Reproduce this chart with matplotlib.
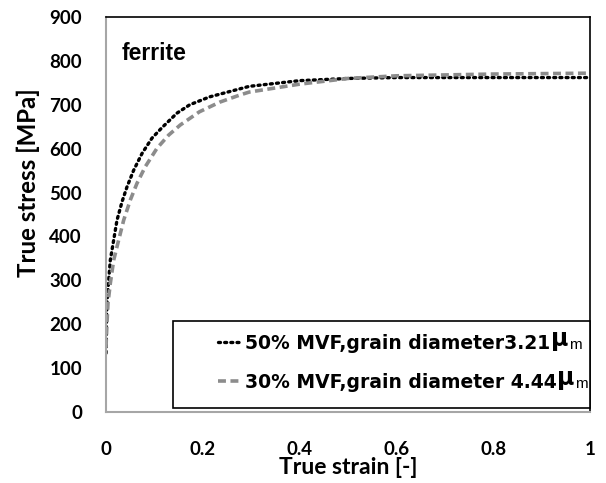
import matplotlib
matplotlib.use("Agg")
import matplotlib.pyplot as plt
from matplotlib.ticker import FuncFormatter
from matplotlib.patches import Rectangle

# Data
strain_50 = [0, 0.0006, 0.002, 0.0056, 0.0089, 0.0159, 0.0227, 0.0331, 0.0434, 0.0572,
             0.0744, 0.095, 0.1157, 0.1467, 0.173, 0.214, 0.255, 0.296, 0.40, 0.50,
             0.60, 0.70, 0.80, 0.90, 1.00]
stress_50 = [134, 194, 248, 301, 346, 392, 437, 479, 513, 551,
             589, 624, 648, 681, 700, 718, 730, 742, 755, 760,
             762, 762, 762, 762, 762]

strain_30 = [0, 0.002, 0.0041, 0.0089, 0.0159, 0.0262, 0.0365, 0.0502, 0.064, 0.0812,
             0.1054, 0.1295, 0.1535, 0.193, 0.235, 0.276, 0.296, 0.40, 0.50, 0.60,
             0.70, 0.80, 0.90, 1.00]
stress_30 = [148, 202, 248, 293, 346, 392, 437, 483, 521, 559,
             601, 631, 654, 684, 706, 722, 729, 747, 760, 766,
             768, 770, 771, 772]

label_50 = "50% MVF,grain diameter3.21"
label_30 = "30% MVF,grain diameter 4.44"
unit_mu = "μ"
unit_m = "m"
panel_label = "ferrite"
x_ticks = [0, 0.2, 0.4, 0.6, 0.8, 1.0]
y_ticks = [0, 100, 200, 300, 400, 500, 600, 700, 800, 900]

fig = plt.figure(figsize=(6.06, 4.83), dpi=100)
ax = fig.add_axes([106/606, 1-412/483, 484/606, 395/483])

ax.plot(strain_50, stress_50, color="black", lw=2.4, linestyle=(0, (0.6, 1.25)),
        dash_capstyle="round", label=label_50)
ax.plot(strain_30, stress_30, color="#8c8c8c", lw=2.6, linestyle=(0, (2.2, 1.25)),
        label=label_30)

ax.set_xlim(0, 1)
ax.set_ylim(0, 900)
ax.set_xticks(x_ticks)
ax.set_yticks(y_ticks)
ax.xaxis.set_major_formatter(FuncFormatter(lambda v, p: f"{v:g}"))
ax.tick_params(axis="both", length=0, labelsize=13.5)
ax.tick_params(axis="x", pad=21)
ax.tick_params(axis="y", pad=17.3)
for lab in ax.get_xticklabels() + ax.get_yticklabels():
    lab.set_fontfamily("Lato")
    lab.set_fontweight("bold")

for s in ["left", "bottom"]:
    ax.spines[s].set_color("#a6a6a6")
    ax.spines[s].set_linewidth(1.5)
for s in ["top", "right"]:
    ax.spines[s].set_color("black")
    ax.spines[s].set_linewidth(1.2)

ax.set_xlabel("True strain [-]", fontsize=16.5, fontfamily="Lato", fontweight="bold", labelpad=-1)
ax.set_ylabel("True stress [MPa]", fontsize=17.3, fontfamily="Lato", fontweight="bold",
              labelpad=7, y=0.58)

ax.text(0.033, 0.891, panel_label, transform=ax.transAxes, fontsize=16.5,
        fontfamily="Liberation Sans", fontweight="bold", va="baseline", ha="left")

# legend box
ax.add_patch(Rectangle((0.138, 0.0101), 0.862, 0.2203, transform=ax.transAxes,
                       facecolor="white", edgecolor="black", lw=1.2, zorder=4, clip_on=False))

leg = ax.legend(loc="upper left", bbox_to_anchor=(0.2314, 0.198), frameon=False,
                borderpad=0, borderaxespad=0, handlelength=1.12, handletextpad=0.32,
                labelspacing=1.08,
                prop={"family": "DejaVu Sans", "weight": "bold", "size": 13.5})
leg.set_zorder(5)

for t in leg.get_texts():
    mu = ax.annotate(unit_mu, xy=(1, 0), xycoords=t, xytext=(0.5, 1.5),
                     textcoords="offset points", va="bottom", ha="left",
                     fontsize=17, fontweight="bold", fontfamily="DejaVu Sans", zorder=10)
    ax.annotate(unit_m, xy=(1, 0), xycoords=(mu, t), xytext=(0.5, 0.9),
                textcoords="offset points", va="bottom", ha="left",
                fontsize=11, fontfamily="Liberation Sans", zorder=11)

fig.savefig("out.png", dpi=100)
